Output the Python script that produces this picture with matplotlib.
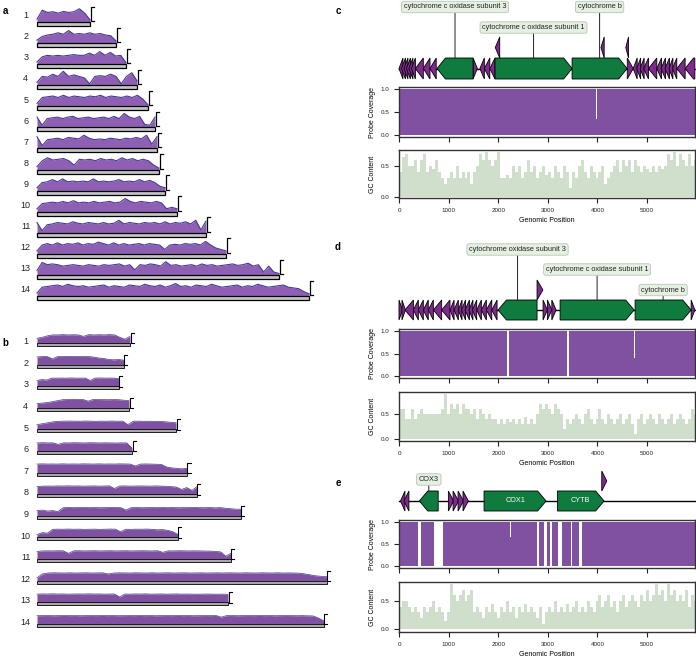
import matplotlib
matplotlib.use("Agg")
import matplotlib.pyplot as plt
from matplotlib.patches import Polygon, Rectangle
import numpy as np

plt.rcParams['font.family'] = ['Liberation Sans', 'DejaVu Sans']

# ---------------- data: panel a ----------------
a_lengths = [10.6, 15.8, 17.8, 20.0, 22.2, 23.6, 24.0, 24.4, 25.6, 28.0, 33.8, 37.8, 48.4, 54.4]
a_cov = [
    [0.2, 0.8, 0.65, 0.7, 0.6, 0.72, 0.65, 0.7, 0.9, 0.6, 0.15],
    [0.2, 0.45, 0.55, 0.6, 0.7, 0.6, 0.85, 0.6, 0.65, 0.6, 0.7, 0.6, 0.65, 0.55, 0.5, 0.15],
    [0.15, 0.5, 0.6, 0.55, 0.6, 0.55, 0.6, 0.65, 0.6, 0.6, 0.75, 0.6, 0.85, 0.6, 0.8, 0.55, 0.6, 0.1],
    [0.2, 0.6, 0.55, 0.75, 0.6, 0.95, 0.6, 0.7, 0.6, 0.5, 0.1, 0.6, 0.65, 0.6, 0.75, 0.6, 0.1, 0.6, 0.85, 0.3],
    [0.2, 0.6, 0.65, 0.7, 0.6, 0.75, 0.6, 0.7, 0.65, 0.6, 0.7, 0.65, 0.75, 0.6, 0.7, 0.65, 0.6, 0.7, 0.6, 0.75, 0.5, 0.1],
    [0.7, 0.15, 0.6, 0.65, 0.7, 0.6, 0.7, 0.75, 0.6, 0.65, 0.7, 0.6, 0.65, 0.7, 0.6, 0.75, 0.6, 0.95, 0.7, 0.6, 0.75, 0.2, 0.15, 0.7],
    [0.8, 0.2, 0.6, 0.65, 0.7, 0.6, 0.75, 0.7, 0.65, 0.9, 0.7, 0.6, 0.65, 0.6, 0.7, 0.65, 0.6, 0.7, 0.65, 0.75, 0.65, 0.9, 0.3, 0.8],
    [0.2, 0.6, 0.8, 0.65, 0.7, 0.75, 0.6, 0.3, 0.7, 0.65, 0.7, 0.6, 0.75, 0.65, 0.7, 0.6, 0.8, 0.65, 0.75, 0.6, 0.7, 0.6, 0.3, 0.1],
    [0.2, 0.55, 0.6, 0.75, 0.6, 0.8, 0.6, 0.65, 0.6, 0.65, 0.6, 0.8, 0.6, 0.65, 0.6, 0.65, 0.75, 0.6, 0.65, 0.6, 0.75, 0.6, 0.7, 0.55, 0.3, 0.2],
    [0.2, 0.55, 0.6, 0.65, 0.6, 0.7, 0.6, 0.75, 0.6, 0.65, 0.6, 0.7, 0.6, 0.65, 0.7, 0.6, 0.65, 0.9, 0.7, 0.6, 0.7, 0.65, 0.6, 0.7, 0.6, 0.2, 0.3, 0.2],
    [0.7, 0.15, 0.55, 0.6, 0.7, 0.65, 0.6, 0.75, 0.65, 0.6, 0.7, 0.65, 0.6, 0.7, 0.6, 0.65, 0.85, 0.6, 0.7, 0.65, 0.6, 0.7, 0.65, 0.7, 0.6, 0.75, 0.6, 0.7, 0.65, 0.75, 0.6, 0.85, 0.2, 0.8],
    [0.2, 0.6, 0.7, 0.6, 0.75, 0.6, 0.7, 0.65, 0.75, 0.6, 0.7, 0.65, 0.8, 0.7, 0.6, 0.75, 0.6, 0.7, 0.6, 0.65, 0.7, 0.6, 0.7, 0.65, 0.6, 0.3, 0.6, 0.65, 0.6, 0.7, 0.65, 0.7, 0.6, 0.85, 0.6, 0.4, 0.3, 0.2],
    [0.3, 0.85, 0.7, 0.75, 0.7, 0.6, 0.65, 0.7, 0.65, 0.6, 0.7, 0.65, 0.6, 0.7, 0.65, 0.7, 0.75, 0.6, 0.7, 0.35, 0.7, 0.65, 0.75, 0.7, 0.6, 0.9, 0.65, 0.7, 0.6, 0.65, 0.7, 0.6, 0.75, 0.65, 0.7, 0.6, 0.65, 0.7, 0.75, 0.65, 0.7, 0.8, 0.6, 0.7, 0.2, 0.6, 0.2, 0.1],
    [0.2, 0.6, 0.65, 0.7, 0.75, 0.65, 0.8, 0.7, 0.65, 0.7, 0.6, 0.65, 0.7, 0.75, 0.6, 0.7, 0.65, 0.6, 0.75, 0.7, 0.65, 0.8, 0.7, 0.65, 0.75, 0.6, 0.7, 0.85, 0.65, 0.7, 0.6, 0.75, 0.7, 0.65, 0.8, 0.7, 0.6, 0.65, 0.7, 0.75, 0.6, 0.7, 0.65, 0.8, 0.7, 0.6, 0.65, 0.7, 0.75, 0.6, 0.55, 0.5, 0.3, 0.15],
]

# ---------------- data: panel b ----------------
b_lengths = [18.6, 17.4, 16.4, 18.4, 27.8, 19.0, 30.0, 32.0, 40.8, 28.2, 38.8, 58.0, 38.2, 57.4]
b_cov = [
    [0.5, 0.6, 0.75, 0.85, 0.85, 0.88, 0.85, 0.87, 0.85, 0.7, 0.88, 0.85, 0.87, 0.85, 0.88, 0.85, 0.6, 0.4, 0.7],
    [0.8, 0.85, 0.85, 0.6, 0.85, 0.85, 0.87, 0.85, 0.86, 0.85, 0.85, 0.8, 0.7, 0.65, 0.55, 0.5, 0.55, 0.45],
    [0.6, 0.7, 0.65, 0.85, 0.85, 0.86, 0.85, 0.87, 0.85, 0.85, 0.86, 0.6, 0.85, 0.87, 0.85, 0.86, 0.85, 0.8],
    [0.45, 0.5, 0.55, 0.65, 0.75, 0.85, 0.88, 0.9, 0.88, 0.87, 0.7, 0.88, 0.87, 0.86, 0.85, 0.87, 0.85, 0.8, 0.75],
    [0.5, 0.6, 0.7, 0.8, 0.85, 0.87, 0.88, 0.87, 0.86, 0.88, 0.87, 0.85, 0.87, 0.86, 0.88, 0.86, 0.87, 0.5, 0.86, 0.87, 0.85, 0.86, 0.84, 0.85, 0.8, 0.75, 0.7],
    [0.85, 0.87, 0.85, 0.86, 0.7, 0.86, 0.85, 0.87, 0.86, 0.85, 0.87, 0.86, 0.85, 0.86, 0.85, 0.84, 0.86, 0.85, 0.3],
    [0.9, 0.92, 0.9, 0.91, 0.9, 0.92, 0.9, 0.91, 0.9, 0.92, 0.91, 0.9, 0.92, 0.9, 0.91, 0.9, 0.92, 0.91, 0.9, 0.7, 0.9, 0.91, 0.9, 0.88, 0.87, 0.6, 0.5, 0.45, 0.4, 0.45],
    [0.8, 0.85, 0.86, 0.85, 0.87, 0.86, 0.88, 0.86, 0.87, 0.85, 0.86, 0.87, 0.85, 0.86, 0.88, 0.6, 0.86, 0.87, 0.85, 0.86, 0.87, 0.86, 0.85, 0.87, 0.85, 0.84, 0.8, 0.75, 0.5, 0.7, 0.4, 0.8],
    [0.55, 0.6, 0.5, 0.55, 0.45, 0.85, 0.88, 0.86, 0.87, 0.88, 0.86, 0.87, 0.85, 0.86, 0.88, 0.87, 0.86, 0.6, 0.86, 0.87, 0.85, 0.86, 0.87, 0.86, 0.88, 0.86, 0.87, 0.85, 0.86, 0.87, 0.88, 0.86, 0.85, 0.87, 0.84, 0.86, 0.8, 0.75, 0.7, 0.7],
    [0.3, 0.5, 0.45, 0.85, 0.87, 0.86, 0.88, 0.86, 0.87, 0.85, 0.86, 0.87, 0.85, 0.86, 0.88, 0.87, 0.6, 0.86, 0.85, 0.87, 0.86, 0.88, 0.85, 0.8, 0.82, 0.75, 0.6, 0.3],
    [0.8, 0.85, 0.86, 0.85, 0.87, 0.86, 0.6, 0.86, 0.87, 0.85, 0.86, 0.87, 0.85, 0.86, 0.87, 0.85, 0.86, 0.87, 0.85, 0.86, 0.87, 0.86, 0.85, 0.87, 0.7, 0.86, 0.85, 0.87, 0.86, 0.85, 0.86, 0.85, 0.84, 0.83, 0.8, 0.75, 0.3, 0.6],
    [0.3, 0.7, 0.8, 0.82, 0.81, 0.8, 0.82, 0.8, 0.81, 0.82, 0.8, 0.81, 0.82, 0.7, 0.8, 0.82, 0.81, 0.8, 0.82, 0.81, 0.8, 0.82, 0.8, 0.81, 0.82, 0.8, 0.81, 0.82, 0.8, 0.81, 0.82, 0.8, 0.81, 0.82, 0.8, 0.82, 0.81, 0.8, 0.82, 0.81, 0.8, 0.82, 0.81, 0.8, 0.82, 0.8, 0.81, 0.8, 0.78, 0.7, 0.6, 0.5, 0.45, 0.4],
    [0.85, 0.87, 0.86, 0.88, 0.86, 0.87, 0.85, 0.86, 0.87, 0.86, 0.88, 0.86, 0.87, 0.85, 0.86, 0.87, 0.55, 0.86, 0.85, 0.87, 0.86, 0.88, 0.85, 0.86, 0.87, 0.85, 0.86, 0.87, 0.85, 0.86, 0.85, 0.84, 0.85, 0.86, 0.85, 0.84, 0.85, 0.83],
    [0.85, 0.86, 0.87, 0.85, 0.86, 0.88, 0.86, 0.87, 0.85, 0.86, 0.87, 0.86, 0.88, 0.86, 0.87, 0.85, 0.86, 0.87, 0.86, 0.88, 0.86, 0.87, 0.85, 0.86, 0.87, 0.86, 0.88, 0.86, 0.87, 0.85, 0.86, 0.87, 0.86, 0.88, 0.7, 0.86, 0.87, 0.85, 0.86, 0.87, 0.86, 0.88, 0.86, 0.87, 0.85, 0.86, 0.87, 0.86, 0.85, 0.86, 0.84, 0.83, 0.6, 0.3],
]

# ---------------- data: panels c, d, e ----------------
genome_len = 5965
gc_bin = 60
gc_c = [0.4, 0.65, 0.7, 0.5, 0.5, 0.6, 0.4, 0.6, 0.7, 0.4, 0.5, 0.45, 0.6, 0.4, 0.3, 0.2, 0.3,
        0.4, 0.3, 0.5, 0.3, 0.4, 0.3, 0.4, 0.2, 0.4, 0.5, 0.7, 0.6, 0.72, 0.6, 0.5, 0.6, 0.72,
        0.3, 0.3, 0.35, 0.3, 0.5, 0.4, 0.5, 0.3, 0.4, 0.6, 0.4, 0.5, 0.3, 0.4, 0.5, 0.35, 0.4,
        0.3, 0.5, 0.4, 0.3, 0.5, 0.4, 0.15, 0.4, 0.3, 0.5, 0.6, 0.4, 0.3, 0.5, 0.4, 0.3, 0.4,
        0.5, 0.2, 0.3, 0.4, 0.5, 0.6, 0.4, 0.6, 0.5, 0.6, 0.4, 0.6, 0.5, 0.4, 0.5, 0.45, 0.4,
        0.5, 0.4, 0.5, 0.45, 0.5, 0.7, 0.6, 0.72, 0.5, 0.7, 0.6, 0.5, 0.7, 0.5, 0.6]
gc_d = [0.6, 0.6, 0.4, 0.4, 0.6, 0.4, 0.5, 0.6, 0.5, 0.5, 0.5, 0.5, 0.5, 0.5, 0.6, 0.9, 0.5,
        0.7, 0.6, 0.7, 0.5, 0.7, 0.6, 0.6, 0.5, 0.6, 0.4, 0.6, 0.5, 0.4, 0.5, 0.4, 0.4, 0.3,
        0.4, 0.3, 0.4, 0.35, 0.4, 0.3, 0.4, 0.3, 0.45, 0.3, 0.4, 0.3, 0.5, 0.7, 0.6, 0.7, 0.6,
        0.5, 0.7, 0.6, 0.5, 0.2, 0.4, 0.3, 0.4, 0.5, 0.4, 0.3, 0.5, 0.6, 0.4, 0.3, 0.4, 0.6,
        0.4, 0.3, 0.5, 0.4, 0.3, 0.4, 0.5, 0.3, 0.4, 0.5, 0.3, 0.1, 0.4, 0.5, 0.3, 0.4, 0.5,
        0.4, 0.3, 0.5, 0.4, 0.3, 0.4, 0.5, 0.3, 0.4, 0.5, 0.4, 0.3, 0.4, 0.6, 0.5]
gc_e = [0.4, 0.5, 0.5, 0.4, 0.3, 0.4, 0.3, 0.2, 0.4, 0.3, 0.4, 0.5, 0.3, 0.4, 0.3, 0.15, 0.3,
        0.8, 0.6, 0.5, 0.6, 0.7, 0.5, 0.6, 0.7, 0.3, 0.4, 0.3, 0.2, 0.4, 0.3, 0.45, 0.3, 0.2,
        0.4, 0.3, 0.5, 0.3, 0.4, 0.2, 0.4, 0.3, 0.45, 0.3, 0.4, 0.3, 0.2, 0.4, 0.1, 0.3, 0.4,
        0.3, 0.5, 0.3, 0.4, 0.3, 0.45, 0.3, 0.4, 0.5, 0.3, 0.4, 0.3, 0.5, 0.4, 0.3, 0.5, 0.6,
        0.4, 0.5, 0.6, 0.4, 0.5, 0.3, 0.5, 0.6, 0.4, 0.5, 0.6, 0.5, 0.4, 0.6, 0.5, 0.7, 0.5,
        0.6, 0.8, 0.6, 0.7, 0.5, 0.8, 0.6, 0.7, 0.5, 0.6, 0.5, 0.7, 0.4, 0.6, 0.5]

cov_c_pos = [0, 3980, 4000, genome_len]
cov_c_val = [1, 0.35, 1, 1]
cov_d_pos = [0, 2185, 2215, 3395, 3420, 4728, 4748, genome_len]
cov_d_val = [1, 0, 1, 0, 1, 0.4, 1, 1]
cov_e_pos = [0, 376, 443, 712, 880, 1625, 1641, 2245, 2258, 2775, 2829, 2930, 2977, 3044, 3078,
             3212, 3280, 3461, 3495, 3636, 3683, genome_len]
cov_e_val = [1, 0, 1, 0, 1, 0.35, 1, 0.65, 1, 0, 1, 0, 1, 0, 1, 0, 1, 0, 1, 0, 1, 1]

# genes: start, end, strand, level (minor = small purple features)
c_minor_start = [0, 50, 100, 150, 200, 250, 330, 490, 625, 1492, 1630, 1720, 1830,
                 4600, 4720, 4790, 4860, 4930, 5027, 5195, 5280, 5360, 5440, 5510, 5598, 5766,
                 1940, 4070, 4570]
c_minor_end = [80, 130, 180, 230, 280, 330, 490, 625, 750, 1580, 1720, 1830, 1935,
               4720, 4800, 4870, 4940, 5027, 5195, 5290, 5370, 5450, 5520, 5598, 5766, 5962,
               2030, 4135, 4625]
c_minor_strand = [-1, -1, -1, -1, -1, -1, -1, -1, -1, 1, -1, -1, -1,
                  1, -1, -1, -1, -1, -1, -1, -1, -1, -1, -1, -1, -1,
                  -1, -1, -1]
c_minor_level = [0] * 26 + [1, 1, 1]
c_major_start = [766, 1935, 3488]
c_major_end = [1492, 3488, 4597]
c_major_strand = [-1, 1, 1]
c_major_names = ["cytochrome c oxidase subunit 3", "cytochrome c oxidase subunit 1", "cytochrome b"]
c_label_level = [3.43, 2.45, 3.43]

d_minor_start = [0, 60, 120, 290, 390, 490, 590, 692, 860, 1028, 1110, 1196, 1260, 1330, 1410,
                 1480, 1566, 1660, 1760, 1870, 2903, 2990, 3080, 5887, 2782]
d_minor_end = [70, 130, 290, 390, 490, 590, 692, 860, 1028, 1110, 1196, 1270, 1340, 1420, 1490,
               1566, 1660, 1760, 1870, 1976, 2990, 3080, 3165, 5962, 2900]
d_minor_strand = [1, 1, -1, -1, -1, -1, -1, -1, -1, -1, -1, -1, -1, -1, -1,
                  -1, -1, -1, -1, -1, 1, 1, 1, 1, 1]
d_minor_level = [0] * 24 + [1]
d_major_start = [1996, 3246, 4758]
d_major_end = [2782, 4738, 5887]
d_major_strand = [-1, 1, 1]
d_major_names = ["cytochrome oxidase subunit 3", "cytochrome c oxidase subunit 1", "cytochrome b"]
d_label_level = [3.525, 2.525, 1.5]

e_minor_start = [30, 100, 995, 1090, 1190, 1290, 4086]
e_minor_end = [120, 200, 1100, 1200, 1300, 1398, 4187]
e_minor_strand = [-1, -1, 1, 1, 1, 1, 1]
e_minor_level = [0, 0, 0, 0, 0, 0, 1]
e_major_start = [410, 1714, 3192]
e_major_end = [790, 2964, 4133]
e_major_strand = [-1, 1, 1]
e_major_names = ["COX3", "COX1", "CYTB"]
e_label_inside = [False, True, True]
e_label_level = [1.575, 0.5, 0.5]

xticks = [0, 1000, 2000, 3000, 4000, 5000]

# ---------------- style ----------------
W, H = 696, 659
fig = plt.figure(figsize=(W / 100, H / 100), dpi=100)

COV_PURPLE = '#8151a1'
GC_GREEN = '#cfdfcc'
GENE_GREEN = '#107b3f'
MINOR_PURPLE = '#7e2a8c'
A_FILL = '#8f5fb3'
A_LINE = '#46399a'
SPINE = '#333333'


def px_axes(x0, y0, x1, y1):
    return fig.add_axes([x0 / W, 1 - y1 / H, (x1 - x0) / W, (y1 - y0) / H])


# ---------------- panel a ----------------
ax_a = px_axes(37, 0, 340, 310)
ax_a.set_xlim(0, 303 / 5)
pitch_a = 21.08
ax_a.set_ylim((310 - 22) / pitch_a + 1, (0 - 22) / pitch_a + 1)
ax_a.axis('off')
Ha = 15 / pitch_a
bar_a = 4 / pitch_a
for i, (L, vals) in enumerate(zip(a_lengths, a_cov)):
    k = i + 1
    xs = np.linspace(0, L, len(vals))
    ys = k - np.array(vals) * Ha * 0.98
    ax_a.fill_between(xs, k, ys, color=A_FILL, lw=0, clip_on=False)
    ax_a.plot(xs, ys, color=A_LINE, lw=0.8, clip_on=False)
    ax_a.add_patch(Rectangle((0, k), L, bar_a, facecolor='#c4c4c4', edgecolor='black', lw=0.9,
                             clip_on=False))
    bx = L + 0.25
    ax_a.plot([bx + 0.6, bx, bx, bx + 0.6], [k - Ha - 0.02, k - Ha - 0.02, k - 0.05, k - 0.05],
              color='black', lw=0.9, clip_on=False)
    ax_a.text(-11.3 / 5, k - 6.3 / pitch_a, str(k), ha='center', va='center', fontsize=6.5,
              color='#222222')

# ---------------- panel b ----------------
ax_b = px_axes(37, 320, 340, 640)
ax_b.set_xlim(0, 303 / 5)
pitch_b = 21.6
ax_b.set_ylim((640 - 343) / pitch_b + 1, (320 - 343) / pitch_b + 1)
ax_b.axis('off')
Hb = 10 / pitch_b
bar_b = 3 / pitch_b
for i, (L, vals) in enumerate(zip(b_lengths, b_cov)):
    k = i + 1
    xs = np.linspace(0, L, len(vals))
    ys = k - np.array(vals) * Hb * 0.95
    ax_b.fill_between(xs, k, ys, color=COV_PURPLE, lw=0, clip_on=False)
    ax_b.plot(xs, ys, color=A_LINE, lw=0.5, clip_on=False)
    ax_b.add_patch(Rectangle((0, k), L, bar_b, facecolor='#a8a8a8', edgecolor='black', lw=0.6,
                             clip_on=False))
    bx = L + 0.1
    ax_b.plot([bx + 0.6, bx, bx, bx + 0.6], [k - Hb, k - Hb, k + 0.02, k + 0.02],
              color='black', lw=0.8, clip_on=False)
    ax_b.text(-11.3 / 5, k - 1.3 / pitch_b, str(k), ha='center', va='center', fontsize=6.5,
              color='#222222')

# ---------------- panel labels ----------------
for lab, (x, y) in {'a': (5, 11), 'b': (5, 343), 'c': (338, 11), 'd': (338, 247), 'e': (338, 483)}.items():
    fig.text(x / W, 1 - y / H, lab, ha='center', va='center', fontsize=7, fontweight='bold')


# ---------------- helpers for c/d/e ----------------
def arrow_pts(s, e, strand, y0, h, head):
    hd = min(head, e - s)
    if strand > 0:
        return [(s, y0), (e - hd, y0), (e, y0 + h / 2), (e - hd, y0 + h), (s, y0 + h)]
    return [(e, y0), (s + hd, y0), (s, y0 + h / 2), (s + hd, y0 + h), (e, y0 + h)]


LABEL_BOX = dict(boxstyle='round,pad=0.3', fc='#e6f0e2', ec='#b8c6b3', lw=0.6)


def gene_track(y0, y1, row_top, row_bot, minor, major, names, label_levels, inside=None):
    ax = px_axes(399, y0, 695, y1)
    unit = row_bot - row_top
    ax.set_xlim(0, genome_len)
    ax.set_ylim((row_bot - y1) / unit, (row_bot - y0) / unit)
    ax.axis('off')
    ax.plot([0, genome_len], [0.5, 0.5], color='black', lw=1.0, zorder=1, clip_on=False)
    for s, e, st, lv in zip(*minor):
        ax.add_patch(Polygon(arrow_pts(s, e, st, lv, 1.0, 170), closed=True, facecolor=MINOR_PURPLE,
                             edgecolor='black', lw=0.6, zorder=2, clip_on=False))
    for j, (s, e, st) in enumerate(zip(*major)):
        ax.add_patch(Polygon(arrow_pts(s, e, st, 0, 1.0, 170), closed=True, facecolor=GENE_GREEN,
                             edgecolor='black', lw=0.6, zorder=3, clip_on=False))
        cx = (s + e) / 2
        if inside is not None and inside[j]:
            ax.text(cx, 0.5, names[j], ha='center', va='center', color='white', fontsize=5.2,
                    zorder=4)
        else:
            ax.annotate(names[j], xy=(cx, 1.0), xytext=(cx, label_levels[j]), ha='center',
                        va='center', fontsize=5.3, color='#222222', bbox=LABEL_BOX,
                        arrowprops=dict(arrowstyle='-', color='#222222', lw=0.7, shrinkA=0,
                                        shrinkB=0), zorder=4, annotation_clip=False)
    return ax


def style_axes(ax):
    for sp in ax.spines.values():
        sp.set_color(SPINE)
        sp.set_linewidth(1.0)
    ax.tick_params(labelsize=4.5, length=3.5, width=0.8, pad=3.5, colors='#222222')
    ax.set_xlim(0, genome_len)
    ax.set_xticks(xticks)


def cov_axes(y0, y1, pos, val):
    ax = px_axes(399, y0, 695, y1)
    ax.fill_between(pos, val, step='post', color=COV_PURPLE, lw=0)
    style_axes(ax)
    ax.set_ylim(-0.045, 1.045)
    ax.set_yticks([0, 0.5, 1.0])
    ax.set_yticklabels(['0.0', '0.5', '1.0'])
    ax.set_xticklabels([])
    ax.set_ylabel('Probe Coverage', fontsize=5, labelpad=3)
    return ax


def gc_axes(y0, y1, vals, ylim):
    ax = px_axes(399, y0, 695, y1)
    starts = np.arange(len(vals)) * gc_bin
    ax.bar(starts, vals, width=gc_bin, align='edge', color=GC_GREEN, lw=0)
    style_axes(ax)
    ax.set_ylim(*ylim)
    ax.set_yticks([0, 0.5])
    ax.set_yticklabels(['0.0', '0.5'])
    ax.set_ylabel('GC Content', fontsize=5, labelpad=3)
    ax.set_xlabel('Genomic Position', fontsize=5, labelpad=3)
    return ax


# ---------------- panel c ----------------
gene_track(0, 84, 58, 79,
           (c_minor_start, c_minor_end, c_minor_strand, c_minor_level),
           (c_major_start, c_major_end, c_major_strand), c_major_names, c_label_level)
cov_axes(87, 137, cov_c_pos, cov_c_val)
gc_axes(150, 198, gc_c, (-0.02, 0.76))

# ---------------- panel d ----------------
gene_track(238, 324, 300, 320,
           (d_minor_start, d_minor_end, d_minor_strand, d_minor_level),
           (d_major_start, d_major_end, d_major_strand), d_major_names, d_label_level)
cov_axes(329, 378, cov_d_pos, cov_d_val)
gc_axes(392, 441, gc_d, (-0.04, 0.94))

# ---------------- panel e ----------------
gene_track(466, 515, 491, 511,
           (e_minor_start, e_minor_end, e_minor_strand, e_minor_level),
           (e_major_start, e_major_end, e_major_strand), e_major_names, e_label_level,
           inside=e_label_inside)
cov_axes(520, 568, cov_e_pos, cov_e_val)
gc_axes(582, 632, gc_e, (-0.05, 0.84))

fig.savefig('out.png', dpi=100)
